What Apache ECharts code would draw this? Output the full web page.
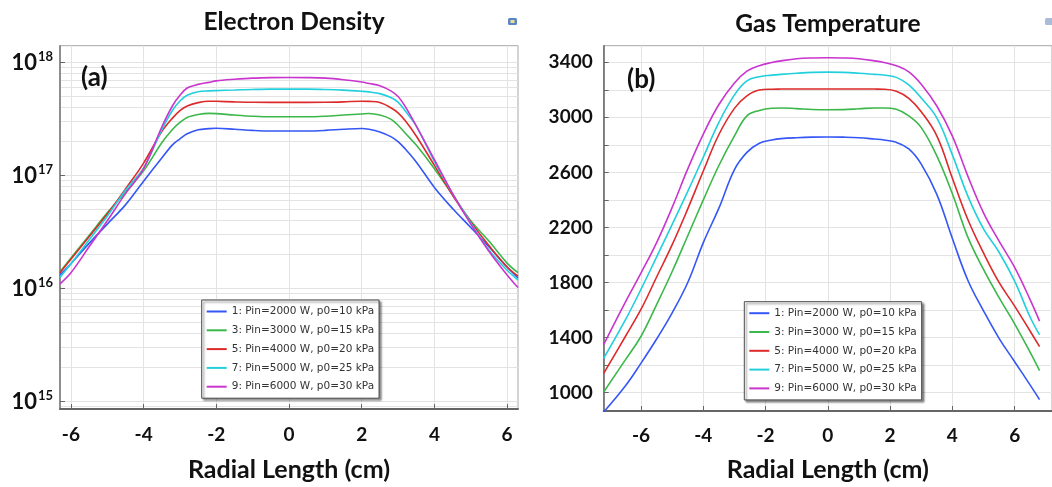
<!DOCTYPE html>
<html>
<head>
<meta charset="utf-8">
<script src="https://cdn.jsdelivr.net/npm/echarts@6/dist/echarts.min.js"></script>
<style>
html,body{margin:0;padding:0;background:#fff;}
#c{width:1052px;height:487px;}
</style>
</head>
<body>
<div id="c"></div>
<script>
// ---------- Data ----------
const seriesNames = [
  '1: Pin=2000 W, p0=10 kPa',
  '3: Pin=3000 W, p0=15 kPa',
  '5: Pin=4000 W, p0=20 kPa',
  '7: Pin=5000 W, p0=25 kPa',
  '9: Pin=6000 W, p0=30 kPa'
];
const seriesColors = ['#3557f5', '#3cb84a', '#dd2a2a', '#22cfdc', '#c935cf'];

// (a) Electron density vs radial length (cm), m^-3
const radialA = [-6.3,-6,-5.5,-5,-4.5,-4,-3.5,-3.2,-3,-2.8,-2.5,-2.2,-2,-1.5,-1,-0.5,0,0.5,1,1.5,2,2.2,2.5,2.8,3,3.2,3.5,4,4.5,5,5.5,6,6.3];
const neP2000 = [1.32e16,1.66e16,2.51e16,3.72e16,5.50e16,8.91e16,1.43e17,1.88e17,2.11e17,2.34e17,2.54e17,2.60e17,2.62e17,2.57e17,2.51e17,2.48e17,2.48e17,
                 2.48e17,2.51e17,2.57e17,2.61e17,2.57e17,2.43e17,2.21e17,2.00e17,1.72e17,1.32e17,7.85e16,5.11e16,3.47e16,2.34e16,1.55e16,1.24e16];
const neP3000 = [1.41e16,1.86e16,2.95e16,4.68e16,7.08e16,1.10e17,1.95e17,2.57e17,2.95e17,3.27e17,3.47e17,3.55e17,3.53e17,3.43e17,3.35e17,3.31e17,3.31e17,
                 3.31e17,3.35e17,3.43e17,3.51e17,3.54e17,3.43e17,3.16e17,2.79e17,2.37e17,1.86e17,1.15e17,6.76e16,3.98e16,2.63e16,1.68e16,1.38e16];
const neP4000 = [1.38e16,1.82e16,2.88e16,4.57e16,7.59e16,1.29e17,2.45e17,3.24e17,3.76e17,4.12e17,4.42e17,4.55e17,4.54e17,4.49e17,4.45e17,4.44e17,4.44e17,
                 4.44e17,4.45e17,4.49e17,4.55e17,4.53e17,4.43e17,3.98e17,3.59e17,3.05e17,2.24e17,1.23e17,6.70e16,3.89e16,2.40e16,1.55e16,1.29e16];
const neP5000 = [1.26e16,1.66e16,2.69e16,4.37e16,7.41e16,1.17e17,2.54e17,3.80e17,4.57e17,5.13e17,5.52e17,5.62e17,5.65e17,5.71e17,5.78e17,5.82e17,5.82e17,
                 5.82e17,5.78e17,5.70e17,5.57e17,5.50e17,5.31e17,4.90e17,4.47e17,3.72e17,2.75e17,1.33e17,6.92e16,3.80e16,2.19e16,1.45e16,1.19e16];
const neP6000 = [1.10e16,1.38e16,2.34e16,3.98e16,6.92e16,1.15e17,2.69e17,4.17e17,5.13e17,5.96e17,6.41e17,6.68e17,6.89e17,7.11e17,7.28e17,7.36e17,7.38e17,
                 7.36e17,7.28e17,7.05e17,6.73e17,6.53e17,6.24e17,5.62e17,5.01e17,4.07e17,2.75e17,1.38e17,6.92e16,3.72e16,2.14e16,1.32e16,1.02e16];

// (b) Gas temperature (K) vs radial length (cm)
const radialB = [-7.2,-6.5,-6,-5.5,-5,-4.5,-4,-3.5,-3,-2.6,-2.2,-1.8,-1.5,-1,-0.5,0,0.5,1,1.5,1.8,2.2,2.6,3,3.5,4,4.5,5,5.5,6,6.5,6.8];
const tgP2000 = [860,1050,1215,1390,1580,1800,2090,2340,2620,2745,2812,2835,2845,2852,2856,2857,2856,2852,2842,2835,2818,2770,2660,2440,2120,1815,1595,1395,1225,1055,950];
const tgP3000 = [1005,1240,1410,1640,1880,2140,2400,2650,2865,3010,3050,3066,3068,3063,3057,3055,3056,3062,3068,3068,3058,3010,2925,2720,2445,2128,1895,1690,1500,1292,1160];
const tgP4000 = [1140,1410,1606,1840,2075,2335,2610,2875,3065,3155,3198,3204,3205,3206,3206,3206,3206,3206,3205,3204,3190,3138,3040,2865,2558,2256,2015,1801,1629,1446,1335];
const tgP5000 = [1250,1530,1752,1986,2222,2462,2711,2963,3163,3265,3295,3306,3312,3320,3326,3328,3326,3320,3312,3307,3290,3235,3140,2996,2727,2426,2190,2020,1810,1548,1420];
const tgP6000 = [1350,1660,1870,2090,2346,2625,2878,3093,3249,3335,3375,3398,3410,3425,3431,3433,3431,3425,3410,3398,3375,3330,3240,3082,2863,2571,2306,2100,1910,1674,1520];

// tick values
const xTicksA = [-6,-4,-2,0,2,4,6];
const xTicksB = [-6,-4,-2,0,2,4,6];
const yDecadesA = [1e15,1e16,1e17,1e18];
const yLabelsB = [1000,1400,1800,2200,2600,3000,3400];
const yGridB = [1000,1200,1400,1600,1800,2000,2200,2400,2600,2800,3000,3200,3400];

// ---------- Chart ----------
const chart = echarts.init(document.getElementById('c'), null, {renderer:'canvas'});
const boldFont = 'Lato, "Open Sans", sans-serif';
const gridColor = '#e3e3e3';

const neSets = [neP2000, neP3000, neP4000, neP5000, neP6000];
const tgSets = [tgP2000, tgP3000, tgP4000, tgP5000, tgP6000];

// log minor grid values for (a)
const minorA = [];
[14,15,16,17].forEach(function(e){
  for (let k = 2; k <= 9; k++) { minorA.push(k * Math.pow(10, e)); }
});

function gridSeries(xi, yi, xs, ys) {
  const d = [];
  xs.forEach(v => d.push({xAxis: v}));
  ys.forEach(v => d.push({yAxis: v}));
  return {
    type: 'line', name: 'grid' + xi, xAxisIndex: xi, yAxisIndex: yi,
    data: [], silent: true, z: 0,
    markLine: {
      silent: true, symbol: 'none', z: 0, animation: false,
      label: {show: false},
      lineStyle: {color: gridColor, width: 1, type: 'solid'},
      emphasis: {disabled: true},
      data: d
    }
  };
}

const series = [];
series.push(gridSeries(0, 0, xTicksA, yDecadesA.concat(minorA.filter(v => v > 8.59e14 && v < 1.41e18))));
series.push(gridSeries(1, 1, xTicksB, yGridB));
neSets.forEach(function(arr, i){
  series.push({
    type: 'line', name: seriesNames[i], xAxisIndex: 0, yAxisIndex: 0,
    data: radialA.map((x, j) => [x, arr[j]]),
    symbol: 'none', smooth: 0.35, z: 3,
    lineStyle: {width: 1.6, color: seriesColors[i]},
    itemStyle: {color: seriesColors[i]},
    emphasis: {disabled: true}, animation: false
  });
});
tgSets.forEach(function(arr, i){
  series.push({
    type: 'line', name: seriesNames[i], xAxisIndex: 1, yAxisIndex: 1,
    data: radialB.map((x, j) => [x, arr[j]]),
    symbol: 'none', smooth: 0.4, z: 3,
    lineStyle: {width: 1.6, color: seriesColors[i]},
    itemStyle: {color: seriesColors[i]},
    emphasis: {disabled: true}, animation: false
  });
});

function legendCfg(left, top) {
  return {
    data: seriesNames, orient: 'vertical', left: left, top: top,
    backgroundColor: '#fff', borderColor: '#4a4a4a', borderWidth: 1,
    padding: [5, 5, 5, 5], itemGap: 5.8, itemWidth: 20, itemHeight: 2, icon: 'rect',
    shadowColor: 'rgba(0,0,0,0.45)', shadowBlur: 2, shadowOffsetX: 2, shadowOffsetY: 2,
    selectedMode: false,
    textStyle: {fontFamily: '"DejaVu Sans", sans-serif', fontSize: 10.5, color: '#333', lineHeight: 13}
  };
}

const xLabelStyle = {fontFamily: boldFont, fontWeight: 'bold', fontSize: 19, color: '#111'};
const nameStyle = {fontFamily: boldFont, fontWeight: 'bold', fontSize: 25, color: '#111'};

const option = {
  backgroundColor: '#fff',
  animation: false,
  title: [
    {text: 'Electron Density', left: 289, top: 5, textAlign: 'center',
     textStyle: {fontFamily: boldFont, fontWeight: 'bold', fontSize: 24.5, color: '#111'}},
    {text: 'Gas Temperature', left: 823, top: 7, textAlign: 'center',
     textStyle: {fontFamily: boldFont, fontWeight: 'bold', fontSize: 24.5, color: '#111'}},
    {text: '(a)', left: 76, top: 60,
     textStyle: {fontFamily: boldFont, fontWeight: 'bold', fontSize: 26, color: '#111'}},
    {text: '(b)', left: 622, top: 62,
     textStyle: {fontFamily: boldFont, fontWeight: 'bold', fontSize: 26, color: '#111'}}
  ],
  legend: [legendCfg(201.7, 300), legendCfg(744.3, 301.7)],
  grid: [
    {left: 60, top: 45.7, width: 458, height: 363.3, show: true, borderColor: '#a8a8a8', borderWidth: 1, backgroundColor: 'transparent'},
    {left: 603.7, top: 45.7, width: 463.7, height: 366, show: true, borderColor: '#a8a8a8', borderWidth: 1, backgroundColor: 'transparent'}
  ],
  xAxis: [
    {type: 'value', gridIndex: 0, min: -6.3, max: 6.3,
     axisLine: {show: true, onZero: false, lineStyle: {color: '#666', width: 2}},
     axisTick: {show: true, inside: true, length: 5, customValues: xTicksA, lineStyle: {color: '#666'}},
     axisLabel: {customValues: xTicksA, margin: 16, ...xLabelStyle},
     splitLine: {show: false},
     name: 'Radial Length (cm)', nameLocation: 'middle', nameGap: 48, nameTextStyle: nameStyle},
    {type: 'value', gridIndex: 1, min: -7.2, max: 7.2,
     axisLine: {show: true, onZero: false, lineStyle: {color: '#666', width: 2}},
     axisTick: {show: true, inside: true, length: 5, customValues: xTicksB, lineStyle: {color: '#666'}},
     axisLabel: {customValues: xTicksB, margin: 15, ...xLabelStyle},
     splitLine: {show: false},
     name: 'Radial Length (cm)', nameLocation: 'middle', nameGap: 46, nameTextStyle: nameStyle}
  ],
  yAxis: [
    {type: 'log', gridIndex: 0, logBase: 10, min: 8.59e14, max: 1.41e18,
     axisLine: {show: true, onZero: false, lineStyle: {color: '#777', width: 1.5}},
     axisTick: {show: true, inside: true, length: 5, lineStyle: {color: '#666'}},
     splitLine: {show: false},
     axisLabel: {
       margin: 7, showMinLabel: false, showMaxLabel: false,
       formatter: function(v){
         const e = Math.log10(v);
         if (Math.abs(e - Math.round(e)) > 1e-6) return '';
         return '{b|10}{s|' + Math.round(e) + '}';
       },
       rich: {
         b: {fontFamily: boldFont, fontWeight: 'bold', fontSize: 22, color: '#111'},
         s: {fontFamily: boldFont, fontWeight: 'bold', fontSize: 13, color: '#111', padding: [0, 0, 11, 1]}
       }
     }},
    {type: 'value', gridIndex: 1, min: 867, max: 3520,
     axisLine: {show: true, onZero: false, lineStyle: {color: '#666', width: 1.5}},
     axisTick: {show: true, inside: true, length: 5, customValues: yGridB, lineStyle: {color: '#666'}},
     splitLine: {show: false},
     axisLabel: {customValues: yLabelsB, margin: 11,
       formatter: function(v){ return String(Math.round(v)); },
       fontFamily: boldFont, fontWeight: 'bold', fontSize: 19, color: '#111'}}
  ],
  graphic: [
    {type: 'rect', shape: {x: 508, y: 18, width: 9, height: 7, r: 1.5}, style: {fill: '#5a86c8'}, silent: true},
    {type: 'rect', shape: {x: 510.5, y: 20, width: 4, height: 3}, style: {fill: '#f2dc86'}, silent: true},
    {type: 'rect', shape: {x: 1045, y: 18, width: 9, height: 7, r: 1.5}, style: {fill: '#a9bcd8'}, silent: true}
  ],
  series: series
};
chart.setOption(option);
</script>
</body>
</html>
